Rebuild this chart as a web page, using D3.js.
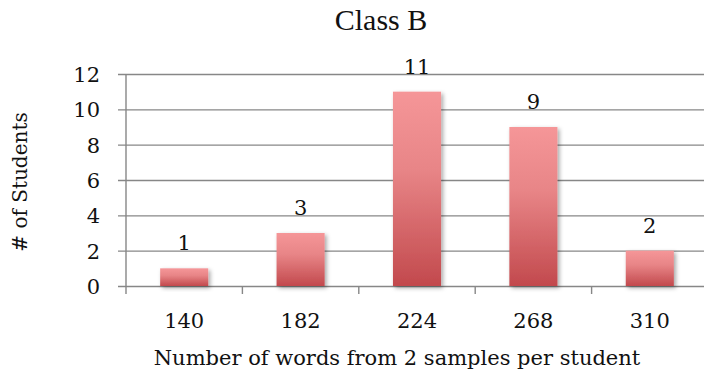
<!DOCTYPE html>
<html>
<head>
<meta charset="utf-8">
<script src="https://cdnjs.cloudflare.com/ajax/libs/d3/7.8.5/d3.min.js"></script>
<style>
  body { margin: 0; background: white; }
</style>
</head>
<body>
<div id="chart-area"></div>
<script>
/*
*    Class B histogram
*/

// Data
const categories = ["140", "182", "224", "268", "310"];
const counts = [1, 3, 11, 9, 2];
const yTicks = [0, 2, 4, 6, 8, 10, 12];

const width = 704;
const height = 374;

const margin = {left: 126, right: -4, top: 74, bottom: 88};
const plotW = width - margin.left - margin.right;
const plotH = height - margin.top - margin.bottom;

const labelFont = "'DejaVu Serif', serif";
const gridColor = "#878787";

const svg = d3.select("#chart-area")
    .append("svg")
    .attr("width", width)
    .attr("height", height);

svg.append("rect")
    .attr("width", "100%")
    .attr("height", "100%")
    .attr("fill", "white");

const defs = svg.append("defs");

// Bar gradient, light on top, darker red at the bottom
const grad = defs.append("linearGradient")
    .attr("id", "barGrad")
    .attr("x1", 0).attr("y1", 0)
    .attr("x2", 0).attr("y2", 1);
grad.append("stop").attr("offset", "0%").attr("stop-color", "#f59698");
grad.append("stop").attr("offset", "40%").attr("stop-color", "#e88587");
grad.append("stop").attr("offset", "100%").attr("stop-color", "#c2494d");

// Soft shadow
const shadow = defs.append("filter")
    .attr("id", "shadow")
    .attr("x", "-20%").attr("y", "-20%")
    .attr("width", "150%").attr("height", "150%");
shadow.append("feDropShadow")
    .attr("dx", 2)
    .attr("dy", 2)
    .attr("stdDeviation", 2)
    .attr("flood-color", "#000")
    .attr("flood-opacity", 0.35);

const g = svg.append("g")
    .attr("transform", "translate(" + margin.left + "," + margin.top + ")");

// X scale (one band per category, ticks on the band edges)
const x = d3.scaleBand()
    .domain(categories)
    .range([0, plotW])
    .padding(0);

// Y scale
const y = d3.scaleLinear()
    .domain([0, 12])
    .range([plotH, 0]);

// Gridlines + y ticks
const leftAxis = d3.axisLeft(y)
    .tickValues(yTicks)
    .tickSize(-plotW - 8)
    .tickPadding(18)
    .tickFormat(d3.format("d"));

const yAxisGroup = g.append("g")
    .attr("class", "y-axis")
    .attr("transform", "translate(-8,0)")
    .call(leftAxis);

yAxisGroup.select(".domain").remove();
yAxisGroup.selectAll("line")
    .attr("stroke", gridColor)
    .attr("stroke-width", 1.4);
yAxisGroup.selectAll("text")
    .attr("font-family", labelFont)
    .attr("font-size", "21px")
    .attr("fill", "#111")
    .attr("dy", "0.36em");

// Vertical axis line
g.append("line")
    .attr("x1", 0).attr("x2", 0)
    .attr("y1", 0).attr("y2", plotH + 8)
    .attr("stroke", gridColor)
    .attr("stroke-width", 1.4);

// X axis tick marks on category boundaries
const boundaries = categories.slice(1).map(c => x(c));
g.selectAll(".x-tick")
    .data(boundaries)
    .enter().append("line")
    .attr("class", "x-tick")
    .attr("x1", d => d).attr("x2", d => d)
    .attr("y1", plotH).attr("y2", plotH + 8)
    .attr("stroke", gridColor)
    .attr("stroke-width", 1.4);

// X tick labels
g.selectAll(".x-label")
    .data(categories)
    .enter().append("text")
    .attr("class", "x-label")
    .attr("x", d => x(d) + x.bandwidth() / 2)
    .attr("y", plotH + 42)
    .attr("text-anchor", "middle")
    .attr("font-family", labelFont)
    .attr("font-size", "21px")
    .attr("fill", "#111")
    .text(d => d);

// Bars
const barW = x.bandwidth() * 0.413;
const bars = categories.map((c, i) => ({cat: c, value: counts[i]}));

g.selectAll(".bar")
    .data(bars)
    .enter().append("rect")
    .attr("class", "bar")
    .attr("x", d => x(d.cat) + (x.bandwidth() - barW) / 2)
    .attr("y", d => y(d.value))
    .attr("width", barW)
    .attr("height", d => plotH - y(d.value))
    .attr("fill", "url(#barGrad)")
    .attr("filter", "url(#shadow)");

// Value labels
g.selectAll(".value")
    .data(bars)
    .enter().append("text")
    .attr("class", "value")
    .attr("x", d => x(d.cat) + x.bandwidth() / 2)
    .attr("y", d => y(d.value) - 18)
    .attr("text-anchor", "middle")
    .attr("font-family", labelFont)
    .attr("font-size", "21px")
    .attr("fill", "#111")
    .text(d => d.value);

// Title
svg.append("text")
    .attr("x", 381)
    .attr("y", 30)
    .attr("text-anchor", "middle")
    .attr("font-family", "'Liberation Serif', serif")
    .attr("font-size", "30px")
    .attr("fill", "#111")
    .text("Class B");

// X axis label
svg.append("text")
    .attr("x", 397)
    .attr("y", 365)
    .attr("text-anchor", "middle")
    .attr("font-family", labelFont)
    .attr("font-size", "21px")
    .attr("fill", "#111")
    .text("Number of words from 2 samples per student");

// Y axis label
svg.append("text")
    .attr("transform", "translate(27,182) rotate(-90)")
    .attr("text-anchor", "middle")
    .attr("font-family", labelFont)
    .attr("font-size", "20px")
    .attr("fill", "#111")
    .text("# of Students");
</script>
</body>
</html>
